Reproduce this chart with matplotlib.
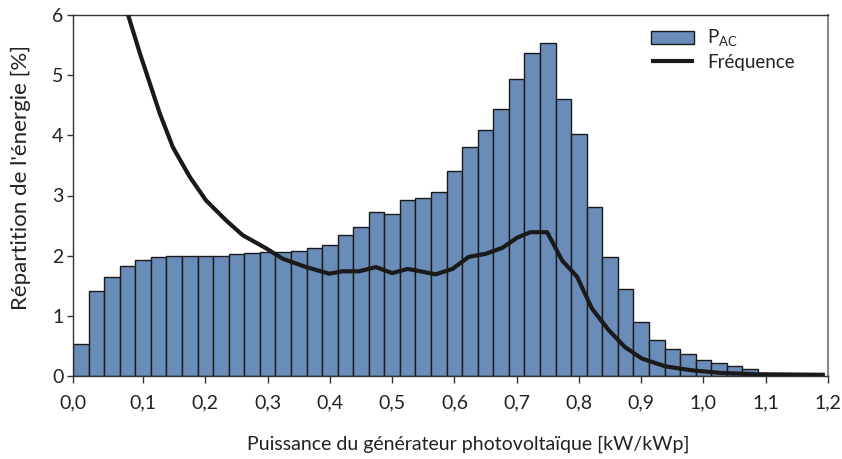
import matplotlib
matplotlib.use("Agg")
import matplotlib.pyplot as plt
import numpy as np

# ---- data ----
bin_width = 0.025
pac_values = [0.53, 1.42, 1.64, 1.82, 1.93, 1.97, 1.99, 2.00, 1.99, 2.00,
              2.02, 2.04, 2.06, 2.06, 2.08, 2.13, 2.17, 2.35, 2.48, 2.73,
              2.69, 2.93, 2.96, 3.05, 3.41, 3.81, 4.09, 4.44, 4.94, 5.37,
              5.53, 4.61, 4.02, 2.81, 1.97, 1.44, 0.90, 0.60, 0.45, 0.37,
              0.27, 0.22, 0.17, 0.11]
freq_x = [0.060, 0.076, 0.095, 0.111, 0.127, 0.148, 0.175, 0.201, 0.233, 0.260,
          0.298, 0.324, 0.362, 0.399, 0.420, 0.447, 0.474, 0.500, 0.525, 0.570,
          0.597, 0.623, 0.650, 0.677, 0.701, 0.722, 0.749, 0.773, 0.797, 0.821,
          0.848, 0.874, 0.901, 0.939, 0.981, 1.029, 1.083, 1.195]
freq_y = [6.55, 6.00, 5.36, 4.86, 4.36, 3.80, 3.31, 2.92, 2.59, 2.34,
          2.12, 1.95, 1.81, 1.70, 1.74, 1.74, 1.81, 1.71, 1.78, 1.69,
          1.78, 1.98, 2.03, 2.13, 2.30, 2.39, 2.39, 1.92, 1.65, 1.12,
          0.76, 0.48, 0.29, 0.16, 0.095, 0.05, 0.03, 0.02]
x_tick_labels = ["0,0", "0,1", "0,2", "0,3", "0,4", "0,5", "0,6",
                 "0,7", "0,8", "0,9", "1,0", "1,1", "1,2"]
y_ticks = [0, 1, 2, 3, 4, 5, 6]

plt.rcParams['font.family'] = ['Lato', 'DejaVu Sans']
plt.rcParams['mathtext.fontset'] = 'custom'
plt.rcParams['mathtext.rm'] = 'Lato'

fig = plt.figure(figsize=(8.42, 4.59), dpi=100)
ax = fig.add_axes([73/842, 1-376/459, (828-73)/842, (376-15)/459])

centers = np.arange(len(pac_values)) * bin_width
bars = ax.bar(centers, pac_values, width=bin_width, color='#6a8cb8',
              edgecolor='#1a1a1a', linewidth=1.0, zorder=2)
line, = ax.plot(freq_x, freq_y, color='#1a1a1a', linewidth=3.0,
                zorder=3, solid_capstyle='butt')

ax.set_xlim(-bin_width/2, 1.2)
ax.set_ylim(0, 6)
xt = [-bin_width/2] + [round(0.1*i, 1) for i in range(1, 13)]
ax.set_xticks(xt)
ax.set_xticklabels(x_tick_labels)
ax.set_yticks(y_ticks)
ax.set_yticklabels([str(v) for v in y_ticks])
ax.tick_params(axis='x', direction='out', length=5, width=1, color='#333333',
               labelsize=14, pad=8, labelcolor='#222222')
ax.tick_params(axis='y', direction='out', length=4, width=1, color='#333333',
               labelsize=14, pad=3, labelcolor='#222222')

for s in ['left', 'bottom', 'top']:
    ax.spines[s].set_color('#333333')
    ax.spines[s].set_linewidth(1.0)
ax.spines['right'].set_color('#888888')
ax.spines['right'].set_linewidth(1.5)

ax.set_xlabel("Puissance du générateur photovoltaïque [kW/kWp]", fontsize=14,
              color='#222222')
ax.xaxis.set_label_coords(0.524, -0.165)
ax.set_ylabel("Répartition de l'énergie [%]", fontsize=16, color='#222222')
ax.yaxis.set_label_coords(-0.056, 0.55)

leg = ax.legend([bars, line], [r'P$_{\mathregular{AC}}$', 'Fréquence'],
                loc='upper left', bbox_to_anchor=(0.755, 0.985), frameon=False,
                fontsize=13.5, handlelength=2.3, handletextpad=0.7,
                labelspacing=0.25, borderaxespad=0)
for t in leg.get_texts():
    t.set_color('#222222')

fig.savefig('out.png', dpi=100)
